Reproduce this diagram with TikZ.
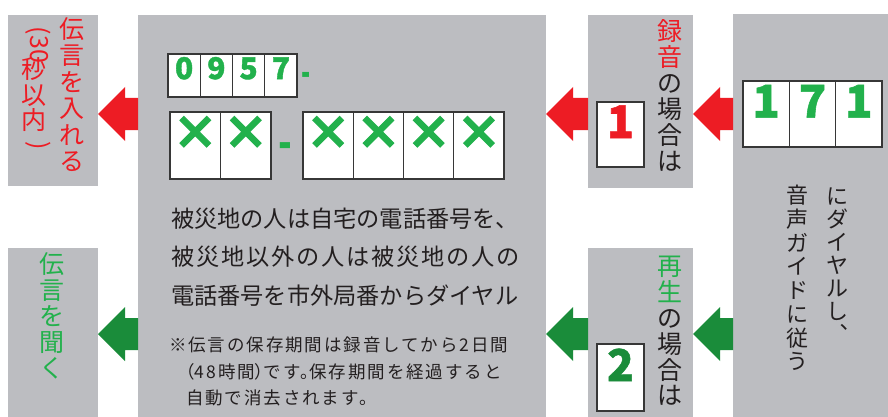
\documentclass[tikz,border=0pt]{standalone}
\usepackage{fontspec}
\newfontfamily\cjk{Noto Sans CJK JP}
\newfontfamily\cjkp[RawFeature=+palt]{Noto Sans CJK JP}
\newfontfamily\cjknote[LetterSpace=11]{Noto Sans CJK JP}
\newfontfamily\cjkheavy[FakeBold=1.2]{Noto Sans CJK JP}
\newfontfamily\cjkxheavy[FakeBold=2.2]{Noto Sans CJK JP}
\usetikzlibrary{calc}
\definecolor{pgray}{RGB}{188,189,193}
\definecolor{jred}{RGB}{237,28,36}
\definecolor{jgreen}{RGB}{34,177,76}
\definecolor{dgreen}{RGB}{26,140,58}
\definecolor{ink}{RGB}{35,31,32}
\definecolor{bordc}{RGB}{55,55,55}
\newcommand\blockarrow[4]{%
  \fill[#4] (#1.east |- 0,#3) -- ++(27,-27) -- ++(0,11)
    -- ($(#2.west |- 0,#3)+(0,-16)$) -- ++(0,32)
    -- ($(#1.east |- 0,#3)+(27,16)$) -- ++(0,11) -- cycle;}
\begin{document}
\begin{tikzpicture}[x=1pt,y=-1pt,
  panel/.style={fill=pgray,inner sep=0,outer sep=0,anchor=north west},
  cell/.style={draw=bordc,line width=1.2pt,fill=white,inner sep=0,outer sep=0,anchor=north west},
  emc/.style={inner sep=0,outer sep=0,text height=0.88em,text depth=0.12em},
  dig/.style={text height=0.73em,text depth=0pt},
  vred/.style={emc,font=\cjk\fontsize{25}{25}\selectfont,text=jred},
  vgrn/.style={emc,font=\cjk\fontsize{25}{25}\selectfont,text=jgreen},
  vblk/.style={emc,font=\cjk\fontsize{25}{25}\selectfont,text=ink},
  vsml/.style={emc,font=\cjk\fontsize{22}{22}\selectfont,text=ink},
  mtext/.style={emc,anchor=west,font=\cjk\fontsize{23.2}{28}\selectfont,text=ink},
  ntext/.style={emc,anchor=west,font=\cjknote\fontsize{17.5}{20}\selectfont,text=ink},
  xmark/.style={font=\cjkxheavy\bfseries\fontsize{46}{46}\selectfont,text=jgreen,text height=0.88em,text depth=0.12em}]
\useasboundingbox (0,0) rectangle (888,417);
\fill[white] (0,0) rectangle (888,417);
% panels
\node[panel,minimum width=90,minimum height=171] (lt) at (8,15) {};
\node[panel,minimum width=90,minimum height=169] (lb) at (8,248) {};
\node[panel,minimum width=408,minimum height=402] (mid) at (138,15) {};
\node[panel,minimum width=105,minimum height=173] (p1) at (588,15) {};
\node[panel,minimum width=105,minimum height=169] (p2) at (588,248) {};
\node[panel,minimum width=155,minimum height=403] (rt) at (733,14) {};
% arrows
\blockarrow{lt}{mid}{114}{jred}
\blockarrow{mid}{p1}{114}{jred}
\blockarrow{p1}{rt}{114}{jred}
\blockarrow{lb}{mid}{334}{dgreen}
\blockarrow{mid}{p2}{334}{dgreen}
\blockarrow{p2}{rt}{334}{dgreen}
% left columns
\foreach \ch [count=\i from 0] in {伝,言,を,入,れ,る}
  \node[vred] (ta\i) at (72,34.3+\i*26.5) {\ch};
\node[vred,rotate=-90,text height=0.75em,text depth=0.02em] (tb0) at (34,45) {(30};
\foreach \ch [count=\i from 1] in {秒,以,内}
  \node[vred] (tb\i) at (34,49.5+\i*25.5) {\ch};
\node[vred,rotate=-90,text height=0.75em,text depth=0.02em] (tb4) at (34,146) {)};
\foreach \ch [count=\i from 0] in {伝,言,を,聞,く}
  \node[vgrn] (tc\i) at (52,270+\i*26) {\ch};
% middle: number boxes
\foreach \d [count=\i from 0] in {0,9,5,7}
  \node[cell,minimum width=32.25,minimum height=43,dig,font=\cjkheavy\bfseries\fontsize{30}{30}\selectfont,text=jgreen] (c\i) at (168+\i*32.25,54) {\d};
\node[inner sep=0,font=\cjk\bfseries\fontsize{40}{40}\selectfont,text=jgreen] (dash1) at (306,79) {\scalebox{0.6}[1]{-}};
\foreach \i in {0,1}
  \node[cell,minimum width=50.5,minimum height=67] (xa\i) at (170+\i*50.5,112) {};
\foreach \i in {0,1}
  \node[xmark] (xma\i) at (xa\i.center) {×};
\node[inner sep=0,font=\cjk\bfseries\fontsize{48}{48}\selectfont,text=jgreen] (dash2) at (285.5,151) {\scalebox{0.75}[1]{-}};
\foreach \i in {0,1,2,3}
  \node[cell,minimum width=50.25,minimum height=67] (xb\i) at (303+\i*50.25,112) {};
\foreach \i in {0,1,2,3}
  \node[xmark] (xmb\i) at (xb\i.center) {×};
% middle text
\node[mtext] (l1) at (171,224) {被災地の人は自宅の電話番号を、};
\node[mtext] (l2) at (171,262) {\makebox[349pt][s]{被\hfil 災\hfil 地\hfil 以\hfil 外\hfil の\hfil 人\hfil は\hfil 被\hfil 災\hfil 地\hfil の\hfil 人\hfil の}};
\node[mtext] (l3) at (171,301) {電話番号を市外局番からダイヤル};
\node[ntext] (n1) at (169,348) {※伝言の保存期間は録音してから2日間};
\node[ntext] (n2) at (186,375) {{\cjkp （}48時間{\cjkp ）}です{\cjkp 。}保存期間を経過すると};
\node[ntext] (n3) at (186,401) {自動で消去されます。};
% panel 1 and 2
\foreach \ch [count=\i from 0] in {録,音}
  \node[vred] (pa\i) at (670,36.5+\i*26.1) {\ch};
\foreach \ch [count=\i from 2] in {の,場,合,は}
  \node[vblk] (pa\i) at (670,36.5+\i*26.1) {\ch};
\node[cell,minimum width=47,minimum height=65,dig,font=\cjkheavy\bfseries\fontsize{45}{45}\selectfont,text=jred] (one) at (597,102) {1};
\foreach \ch [count=\i from 0] in {再,生}
  \node[vgrn] (pb\i) at (670,272+\i*25.8) {\ch};
\foreach \ch [count=\i from 2] in {の,場,合,は}
  \node[vblk] (pb\i) at (670,272+\i*25.8) {\ch};
\node[cell,minimum width=47,minimum height=67,dig,font=\cjkheavy\bfseries\fontsize{44}{44}\selectfont,text=dgreen] (two) at (597,344) {2};
% right panel
\foreach \d [count=\i from 0] in {1,7,1}
  \node[cell,minimum width=46.33,minimum height=66,dig,font=\cjkheavy\bfseries\fontsize{45}{45}\selectfont,text=jgreen] (r\i) at (743+\i*46.33,81) {\d};
\foreach \ch [count=\i from 0] in {に,ダ,イ,ヤ,ル,し,︑}
  \node[vsml] (ra\i) at (837,201+\i*23) {\ch};
\foreach \ch [count=\i from 0] in {音,声,ガ,イ,ド,に,従,う}
  \node[vsml] (rb\i) at (797,200+\i*23.7) {\ch};
\end{tikzpicture}
\end{document}
